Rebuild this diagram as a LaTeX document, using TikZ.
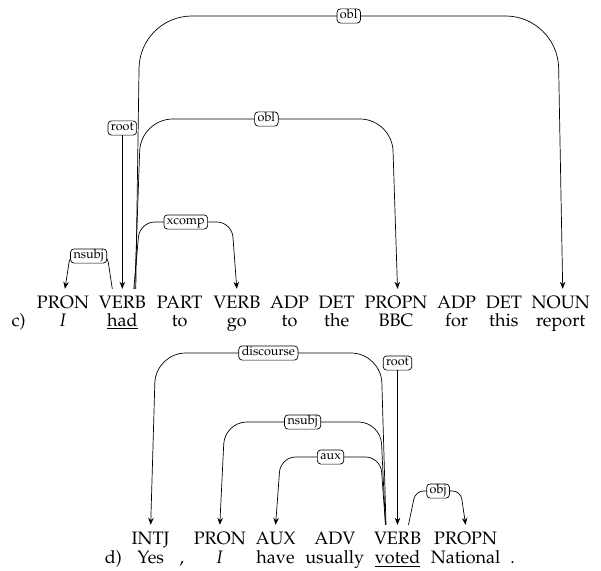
\documentclass[tikz,border=0pt]{standalone}
\usepackage[T1]{fontenc}
\usepackage{mathpazo}
\usetikzlibrary{arrows.meta}
\tikzset{
  tag/.style ={anchor=base, inner xsep=1pt, inner ysep=6.5pt,
               text height=12.5pt, text depth=0pt,
               font=\fontsize{18}{21}\selectfont},
  wrd/.style ={anchor=base, inner sep=1pt, font=\fontsize{18}{21}\selectfont},
  lbl/.style ={draw, fill=white, rounded corners=3.5pt, inner sep=3pt,
               text height=1.5ex, text depth=.25ex,
               font=\fontsize{12.6}{14}\selectfont, line width=0.7pt},
  dep/.style ={-{Stealth[length=7pt, width=5.5pt]}, line width=0.7pt},
}

\begin{document}
\begin{tikzpicture}[x=1pt, y=-1pt]
  \useasboundingbox (0,0) rectangle (601,570);
  % sentence c)
  \node[tag] (tI)      at (63,308)    {PRON};
  \node[tag] (thad)    at (122.3,308) {VERB};
  \node[tag] (tto)     at (179.6,308) {PART};
  \node[tag] (tgo)     at (236.8,308) {VERB};
  \node[tag] (tto2)    at (289.5,308) {ADP};
  \node[tag] (tthe)    at (336.7,308) {DET};
  \node[tag] (tbbc)    at (396,308)   {PROPN};
  \node[tag] (tfor)    at (456.6,308) {ADP};
  \node[tag] (tthis)   at (503.8,308) {DET};
  \node[tag] (treport) at (560.7,308) {NOUN};
  \node[wrd] (wc)      at (18.7,326)  {c)};
  \node[wrd] (wI)      at (63,326)    {\textit{I}};
  \node[wrd] (whad)    at (122.3,326) {\underline{had}};
  \node[wrd] (wto)     at (179.6,326) {to};
  \node[wrd] (wgo)     at (236.8,326) {go};
  \node[wrd] (wto2)    at (289.5,326) {to};
  \node[wrd] (wthe)    at (336.7,326) {the};
  \node[wrd] (wbbc)    at (396,326)   {BBC};
  \node[wrd] (wfor)    at (456.6,326) {for};
  \node[wrd] (wthis)   at (503.8,326) {this};
  \node[wrd] (wreport) at (560.7,326) {report};

  \node[lbl] (rootc) at (122.3,128) {root};
  \draw[dep] (rootc) -- (thad.north);
  \draw[dep, rounded corners=6pt] ([xshift=-10pt]thad.north)
    -- ([xshift=-15pt]thad.north |- 0,256) -- node[lbl] {nsubj}
       ([xshift=7pt]tI.north |- 0,256) -- ([xshift=2pt]tI.north);
  \draw[dep, rounded corners=15pt] ([xshift=11.5pt]thad.north)
    -- ([xshift=17.5pt]thad.north |- 0,222) -- node[lbl] {xcomp}
       ([xshift=-5pt]tgo.north |- 0,222) -- (tgo.north);
  \draw[dep, rounded corners=32pt] ([xshift=12.5pt]thad.north)
    -- ([xshift=18.5pt]thad.north |- 0,119) -- node[lbl] {obl}
       ([xshift=-4pt]tbbc.north |- 0,119) -- ([xshift=1.5pt]tbbc.north);
  \draw[dep, rounded corners=52pt] ([xshift=13.5pt]thad.north)
    -- ([xshift=17.5pt]thad.north |- 0,16) -- node[lbl] {obl}
       ([xshift=-3pt]treport.north |- 0,16) -- ([xshift=2pt]treport.north);

  % sentence d)
  \node[tag] (tyes)      at (150.7,544) {INTJ};
  \node[tag] (tI2)       at (219.8,544) {PRON};
  \node[tag] (thave)     at (275.6,544) {AUX};
  \node[tag] (tusually)  at (334.8,544) {ADV};
  \node[tag] (tvoted)    at (397.5,544) {VERB};
  \node[tag] (tnational) at (465.6,544) {PROPN};
  \node[wrd] (wd)        at (113.4,563) {d)};
  \node[wrd] (wyes)      at (150.7,563) {Yes};
  \node[wrd] (wcomma)    at (181.8,563) {,};
  \node[wrd] (wI2)       at (219.8,563) {\textit{I}};
  \node[wrd] (whave)     at (275.6,563) {have};
  \node[wrd] (wusually)  at (334.8,563) {usually};
  \node[wrd] (wvoted)    at (397.5,563) {\underline{voted}};
  \node[wrd] (wnational) at (465.6,563) {National};
  \node[wrd] (wdot)      at (512.5,563) {.};

  \node[lbl] (rootd) at (397.5,363) {root};
  \draw[dep] (rootd) -- (tvoted.north);
  \draw[dep, rounded corners=30pt] ([xshift=-11.5pt]tvoted.north)
    -- ([xshift=-16.5pt]tvoted.north |- 0,353) -- node[lbl] {discourse}
       ([xshift=5pt]tyes.north |- 0,353) -- (tyes.north);
  \draw[dep, rounded corners=22pt] ([xshift=-12pt]tvoted.north)
    -- ([xshift=-17pt]tvoted.north |- 0,422) -- node[lbl] {nsubj}
       ([xshift=5pt]tI2.north |- 0,422) -- (tI2.north);
  \draw[dep, rounded corners=15pt] ([xshift=-12pt]tvoted.north)
    -- ([xshift=-17pt]tvoted.north |- 0,457) -- node[lbl] {aux}
       ([xshift=5pt]thave.north |- 0,457) -- (thave.north);
  \draw[dep, rounded corners=8pt] ([xshift=11pt]tvoted.north)
    -- ([xshift=18pt]tvoted.north |- 0,491) -- node[lbl] {obj}
       ([xshift=-5pt]tnational.north |- 0,491) -- (tnational.north);
\end{tikzpicture}
\end{document}
